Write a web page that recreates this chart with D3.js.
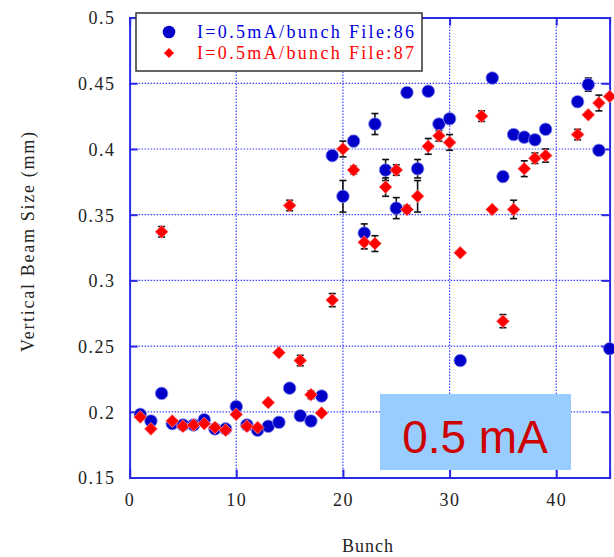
<!DOCTYPE html>
<html><head><meta charset="utf-8">
<script src="https://cdn.jsdelivr.net/npm/d3@7"></script>
<style>html,body{margin:0;padding:0;background:#fff;}svg{display:block;}</style>
</head><body>
<svg id="c" width="614" height="557"></svg>
<script>
const xTicks = [0, 10, 20, 30, 40];
const yTicks = [0.15, 0.2, 0.25, 0.3, 0.35, 0.4, 0.45, 0.5];
const seriesNames = ["I=0.5mA/bunch File:86", "I=0.5mA/bunch File:87"];

const bunch86 = [1,2,3,4,5,6,7,8,9,10,11,12,13,14,15,16,17,18,19,20,21,22,23,24,25,26,27,28,29,30,31,34,35,36,37,38,39,42,43,44,45];
const size86  = [0.198,0.193,0.214,0.191,0.190,0.190,0.194,0.187,0.187,0.204,0.190,0.186,0.189,0.192,0.218,0.197,0.193,0.212,0.395,0.364,0.406,0.336,0.419,0.384,0.355,0.443,0.385,0.444,0.419,0.423,0.239,0.454,0.379,0.411,0.409,0.407,0.415,0.436,0.449,0.399,0.248];
const err86   = [0,0,0,0,0,0,0,0,0,0,0,0,0,0,0,0,0,0,0,0.012,0.004,0.007,0.008,0.008,0.008,0.003,0.007,0.002,0,0,0,0,0,0,0,0,0,0,0.005,0,0];

const bunch87 = [1,2,3,4,5,6,7,8,9,10,11,12,13,14,15,16,17,18,19,20,21,22,23,24,25,26,27,28,29,30,31,33,34,35,36,37,38,39,42,43,44,45];
const size87  = [0.196,0.187,0.337,0.193,0.189,0.190,0.191,0.188,0.186,0.198,0.189,0.188,0.207,0.245,0.357,0.239,0.213,0.199,0.285,0.400,0.384,0.329,0.328,0.371,0.384,0.354,0.364,0.402,0.410,0.405,0.321,0.425,0.354,0.269,0.354,0.385,0.393,0.395,0.411,0.426,0.435,0.440];
const err87   = [0,0,0.004,0,0,0,0,0,0,0,0,0,0.002,0.002,0.004,0.004,0.003,0,0.005,0.006,0.003,0.005,0.006,0.007,0.004,0.003,0.012,0.006,0.004,0.006,0,0.004,0,0.005,0.007,0.006,0.004,0.005,0.004,0.002,0.006,0];

const W = 614, H = 557;
const m = {left: 129.6, right: 609.6, top: 17.6, bottom: 477.5};
const svg = d3.select("#c");
const x = d3.scaleLinear().domain([0, 45]).range([m.left, m.right]);
const y = d3.scaleLinear().domain([0.15, 0.5]).range([m.bottom, m.top]);

const axisBlue = "#2b2be6";
const gridBlue = "#4040ff";
const serif = "'Liberation Serif','Times New Roman',serif";

// grid
const grid = svg.append("g");
grid.selectAll(".gx").data(xTicks.filter(d => d > 0)).join("line")
  .attr("x1", d => x(d)).attr("x2", d => x(d)).attr("y1", m.top).attr("y2", m.bottom)
  .attr("stroke", gridBlue).attr("stroke-width", 1.2).attr("stroke-dasharray", "1.5,1.5");
grid.selectAll(".gy").data(yTicks.filter(d => d > 0.15 && d < 0.5)).join("line")
  .attr("y1", d => y(d)).attr("y2", d => y(d)).attr("x1", m.left).attr("x2", m.right)
  .attr("stroke", gridBlue).attr("stroke-width", 1.2).attr("stroke-dasharray", "1.5,1.5");

// axes
const yAxisL = d3.axisLeft(y).tickValues(yTicks).tickSize(-8).tickPadding(14).tickFormat(d => String(+d.toFixed(2)));
const gL = svg.append("g").attr("transform", `translate(${m.left},0)`).call(yAxisL);
const yAxisR = d3.axisRight(y).tickValues(yTicks).tickSize(-8).tickFormat("");
const gR = svg.append("g").attr("transform", `translate(${m.right},0)`).call(yAxisR);
const xAxisB = d3.axisBottom(x).tickValues(xTicks).tickSize(-8).tickPadding(16).tickFormat(d3.format("d"));
const gB = svg.append("g").attr("transform", `translate(0,${m.bottom})`).call(xAxisB);
const xAxisT = d3.axisTop(x).tickValues(xTicks).tickSize(-8).tickFormat("");
const gT = svg.append("g").attr("transform", `translate(0,${m.top})`).call(xAxisT);
[gL, gR, gB, gT].forEach(g => {
  g.select(".domain").attr("stroke", axisBlue).attr("stroke-width", 2);
  g.selectAll(".tick line").attr("stroke", axisBlue).attr("stroke-width", 2);
  g.selectAll("text").attr("font-family", serif).attr("font-size", 18).attr("fill", "#222").attr("letter-spacing", 1.5);
});
gL.selectAll(".tick text").attr("dy", "0.35em");

// error bars
function drawErr(bx, vals, errs) {
  const idx = d3.range(bx.length).filter(i => errs[i] > 0);
  const g = svg.append("g").attr("stroke", "#111").attr("stroke-width", 1.6);
  g.selectAll(".v").data(idx).join("line")
    .attr("x1", i => x(bx[i])).attr("x2", i => x(bx[i]))
    .attr("y1", i => y(vals[i] - errs[i])).attr("y2", i => y(vals[i] + errs[i]));
  g.selectAll(".t").data(idx).join("line")
    .attr("x1", i => x(bx[i]) - 3.5).attr("x2", i => x(bx[i]) + 3.5)
    .attr("y1", i => y(vals[i] + errs[i])).attr("y2", i => y(vals[i] + errs[i]));
  g.selectAll(".b").data(idx).join("line")
    .attr("x1", i => x(bx[i]) - 3.5).attr("x2", i => x(bx[i]) + 3.5)
    .attr("y1", i => y(vals[i] - errs[i])).attr("y2", i => y(vals[i] - errs[i]));
}
drawErr(bunch86, size86, err86);
drawErr(bunch87, size87, err87);

const circleSym = d3.symbol().type(d3.symbolCircle).size(125);
const diamondPath = "M0,-6.5L6.5,0L0,6.5L-6.5,0Z";

svg.append("g").selectAll("path").data(d3.range(bunch86.length)).join("path")
  .attr("transform", i => `translate(${x(bunch86[i])},${y(size86[i])})`)
  .attr("d", circleSym).attr("fill", "#0000c8").attr("stroke", "#8f8fef").attr("stroke-width", 0.8);
svg.append("g").selectAll("path").data(d3.range(bunch87.length)).join("path")
  .attr("transform", i => `translate(${x(bunch87[i])},${y(size87[i])})`)
  .attr("d", diamondPath).attr("fill", "#ff0000").attr("stroke", "#ff9090").attr("stroke-width", 0.8);

// legend
const lg = svg.append("g");
lg.append("rect").attr("x", 136).attr("y", 13).attr("width", 286).attr("height", 58)
  .attr("fill", "#fff").attr("stroke", "#333").attr("stroke-width", 1.5);
lg.append("path").attr("transform", "translate(169,32)").attr("d", circleSym).attr("fill", "#0000c8");
lg.append("path").attr("transform", "translate(169,53)").attr("d", "M0,-5L5,0L0,5L-5,0Z").attr("fill", "#ff0000");
lg.append("text").attr("x", 197).attr("y", 38).text(seriesNames[0])
  .attr("font-family", serif).attr("font-size", 18).attr("fill", "#0000e0")
  .attr("textLength", 217).attr("lengthAdjust", "spacing");
lg.append("text").attr("x", 197).attr("y", 59).text(seriesNames[1])
  .attr("font-family", serif).attr("font-size", 18).attr("fill", "#ff0000")
  .attr("textLength", 217).attr("lengthAdjust", "spacing");

// axis titles
svg.append("text").attr("x", 368).attr("y", 552).attr("text-anchor", "middle")
  .attr("font-family", serif).attr("font-size", 18).attr("fill", "#222").attr("letter-spacing", 1).text("Bunch");
svg.append("text").attr("transform", "translate(34,242) rotate(-90)").attr("text-anchor", "middle")
  .attr("font-family", serif).attr("font-size", 18).attr("fill", "#222")
  .attr("textLength", 220).attr("lengthAdjust", "spacing").text("Vertical Beam Size (mm)");

// annotation box
svg.append("rect").attr("x", 380).attr("y", 394).attr("width", 191).attr("height", 76).attr("fill", "#99ccff");
svg.append("text").attr("x", 475).attr("y", 453).attr("text-anchor", "middle")
  .attr("font-family", "'Liberation Sans',Arial,sans-serif").attr("font-size", 46).attr("fill", "#cc0000").text("0.5 mA");
</script>
</body></html>
